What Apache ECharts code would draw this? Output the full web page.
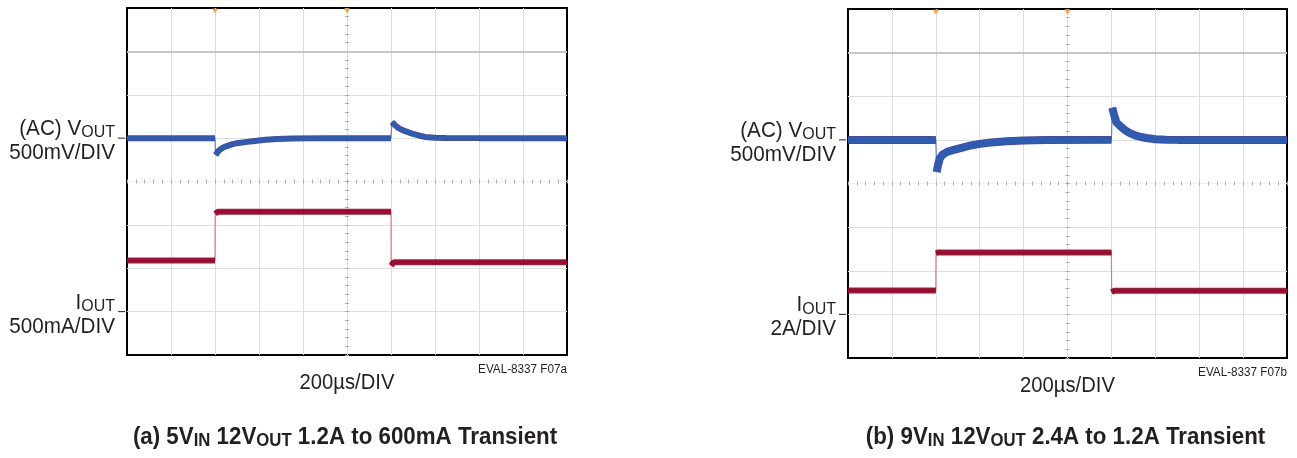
<!DOCTYPE html>
<html>
<head>
<meta charset="utf-8">
<script src="https://cdn.jsdelivr.net/npm/echarts@6/dist/echarts.min.js"></script>
<style>html,body{margin:0;padding:0;background:#fff}#c{width:1297px;height:458px}</style>
</head>
<body>
<div id="c"></div>
<script>
// ---------- data (read from the scope shots) ----------
// time axis: 10 divisions of 200 µs
const timeMinUs = 0, timeMaxUs = 2000, timeDivUs = 200;
const loadStepTimesUs = [400, 1200];
const triggerMarkTimesUs = [400, 1000];

// Panel (a): 5VIN 12VOUT 1.2A to 600mA, VOUT AC 500mV/div, IOUT 500mA/div
const voutATimeUs = [0, 400, 403, 408, 415, 425, 435, 445, 460, 480, 500, 536, 580, 630, 680, 750, 900, 1200,
  1204, 1212, 1222, 1235, 1250, 1265, 1277, 1300, 1330, 1355, 1400, 1450, 1600, 2000];
const voutAmV = [0, 0, -195, -175, -150, -128, -112, -100, -86, -70, -58, -46, -32, -20, -10, -4, 0, 0,
  185, 165, 140, 115, 95, 80, 69, 48, 28, 14, 5, 1, 0, 0];
const ioutATimeUs = [0, 400, 401, 412, 1200, 1201, 1212, 2000];
const ioutAAmps = [0.59, 0.59, 1.13, 1.15, 1.15, 0.53, 0.57, 0.57];

// Panel (b): 9VIN 12VOUT 2.4A to 1.2A, VOUT AC 500mV/div, IOUT 2A/div
const voutBTimeUs = [0, 400, 404, 410, 418, 430, 450, 470, 495, 530, 560, 600, 650, 723, 800, 900, 1200,
  1204, 1212, 1223, 1240, 1260, 1282, 1310, 1340, 1359, 1400, 1450, 1500, 2000];
const voutBmV = [0, 0, -367, -290, -215, -170, -140, -122, -105, -82, -64, -46, -30, -17, -8, -2, 0,
  367, 290, 200, 160, 115, 80, 50, 30, 22, 8, 2, 0, 0];
const ioutBTimeUs = [0, 400, 401, 412, 1200, 1201, 1212, 2000];
const ioutBAmps = [1.10, 1.10, 2.80, 2.84, 2.84, 1.02, 1.08, 1.08];

// vertical scales (8 divisions)
const voutScaleA = {min: -2500, max: 1500, interval: 500};
const ioutScaleA = {min: -0.5, max: 3.5, interval: 0.5};
const voutScaleB = {min: -2500, max: 1500, interval: 500};
const ioutScaleB = {min: -2, max: 14, interval: 2};

const voutLabelA = ['(AC) V', 'OUT', '500mV/DIV'];
const ioutLabelA = ['I', 'OUT', '500mA/DIV'];
const voutLabelB = ['(AC) V', 'OUT', '500mV/DIV'];
const ioutLabelB = ['I', 'OUT', '2A/DIV'];
const timeLabel = '200µs/DIV';
const figIds = ['EVAL-8337 F07a', 'EVAL-8337 F07b'];
const titleA = ['(a) 5V', 'IN', ' 12V', 'OUT', ' 1.2A to 600mA Transient'];
const titleB = ['(b) 9V', 'IN', ' 12V', 'OUT', ' 2.4A to 1.2A Transient'];

// ---------- chart ----------
const F = "'Liberation Sans',Arial,sans-serif";
const TXT = '#231f20';
const BLUE = '#2c5cb6', BLUE_EDGE = '#2b2a78', BLUE_THIN = '#5b82d4';
const RED = '#a8062e', RED_EDGE = '#6e0a20', RED_THIN = '#e5728e';
const SX = 0.92;   // condensed look
const GRID_C = '#dedede';

const grids = [
  {left: 127, top: 8, width: 440, height: 347},
  {left: 848, top: 9, width: 439, height: 349}
];
const panels = [
  {vt: voutATimeUs, vv: voutAmV, it: ioutATimeUs, iv: ioutAAmps, vs: voutScaleA, is: ioutScaleA, bw: 5, rw: 5,
   vl: voutLabelA, il: ioutLabelA, fig: figIds[0], title: titleA},
  {vt: voutBTimeUs, vv: voutBmV, it: ioutBTimeUs, iv: ioutBAmps, vs: voutScaleB, is: ioutScaleB, bw: 7, rw: 5,
   vl: voutLabelB, il: ioutLabelB, fig: figIds[1], title: titleB}
];

function pairs(t, v) { return t.map((x, i) => [x, v[i]]); }
// thick band broken at the fast load-step edges (edges drawn thin)
function broken(t, v) {
  const out = [];
  for (let i = 0; i < t.length; i++) {
    if (i > 0) {
      const s = loadStepTimesUs.find(s => t[i - 1] <= s && s < t[i]);
      if (s !== undefined && t[i] - t[i - 1] < 10) out.push([s + 0.5, '-']);
    }
    out.push([t[i], v[i]]);
  }
  return out;
}

const xAxis = [], yAxis = [], series = [], graphic = [];
panels.forEach((p, k) => {
  const g = grids[k];
  const xi = xAxis.length;
  const nX = (timeMaxUs - timeMinUs) / timeDivUs;
  const xColors = [];
  for (let j = 0; j <= nX; j++) xColors.push(j === 0 || j === nX ? 'rgba(0,0,0,0)' : GRID_C);
  xAxis.push({
    type: 'value', gridIndex: k, min: timeMinUs, max: timeMaxUs, interval: timeDivUs,
    axisLine: {show: false, onZero: false}, axisTick: {show: false}, axisLabel: {show: false},
    splitLine: {show: true, lineStyle: {color: xColors, width: 1}}
  });
  [true, false].forEach(inside => xAxis.push({
    type: 'value', gridIndex: k, min: timeMinUs, max: timeMaxUs, interval: timeDivUs / 5,
    position: 'bottom', offset: -g.height / 2,
    axisLine: {show: false, onZero: false}, axisLabel: {show: false}, splitLine: {show: false},
    axisTick: {show: true, inside: inside, length: 2, lineStyle: {color: '#a8a8a8'}}
  }));
  const yi = yAxis.length;
  const nDiv = (p.vs.max - p.vs.min) / p.vs.interval;
  const splitColors = [];
  for (let j = 0; j <= nDiv; j++) {
    splitColors.push(j === 0 || j === nDiv ? 'rgba(0,0,0,0)' : (j === nDiv / 2 ? '#efefef' : GRID_C));
  }
  yAxis.push({
    type: 'value', gridIndex: k, min: p.vs.min, max: p.vs.max, interval: p.vs.interval,
    axisLine: {show: false, onZero: false}, axisTick: {show: false}, axisLabel: {show: false},
    splitLine: {show: true, lineStyle: {color: splitColors, width: 1}}
  });
  yAxis.push({
    type: 'value', gridIndex: k, min: p.is.min, max: p.is.max, interval: p.is.interval, show: false,
    position: 'left', axisLine: {onZero: false}, splitLine: {show: false}
  });
  [true, false].forEach(inside => yAxis.push({
    type: 'value', gridIndex: k, min: 0, max: nDiv * 5, interval: 1,
    position: 'left', offset: -g.width / 2,
    axisLine: {show: false, onZero: false}, axisLabel: {show: false}, splitLine: {show: false},
    axisTick: {show: true, inside: inside, length: 2, lineStyle: {color: '#a8a8a8'}}
  }));

  const base = {type: 'line', xAxisIndex: xi, showSymbol: false, symbol: 'none', silent: true,
    animation: false, connectNulls: false};
  // VOUT
  series.push(Object.assign({}, base, {yAxisIndex: yi, data: pairs(p.vt, p.vv), z: 2,
    lineStyle: {color: BLUE_THIN, width: 1.2},
    markLine: {silent: true, symbol: ['none', 'none'], label: {show: false}, animation: false,
      lineStyle: {color: '#c6c6c6', width: 2, type: 'solid'}, data: [{yAxis: p.vs.max - p.vs.interval}]}}));
  series.push(Object.assign({}, base, {yAxisIndex: yi, data: broken(p.vt, p.vv), z: 3,
    lineStyle: {color: BLUE_EDGE, width: p.bw + 1, opacity: 0.85}}));
  series.push(Object.assign({}, base, {yAxisIndex: yi, data: broken(p.vt, p.vv), z: 4,
    lineStyle: {color: BLUE, width: p.bw - 0.5}}));
  // IOUT
  series.push(Object.assign({}, base, {yAxisIndex: yi + 1, data: pairs(p.it, p.iv), z: 2,
    lineStyle: {color: RED_THIN, width: 1.2}}));
  series.push(Object.assign({}, base, {yAxisIndex: yi + 1, data: broken(p.it, p.iv), z: 3,
    lineStyle: {color: RED_EDGE, width: p.rw + 1, opacity: 0.85}}));
  series.push(Object.assign({}, base, {yAxisIndex: yi + 1, data: broken(p.it, p.iv), z: 4,
    lineStyle: {color: RED, width: p.rw - 1}}));
  // trigger markers on top edge
  series.push({type: 'scatter', xAxisIndex: xi, yAxisIndex: yi, silent: true, animation: false, clip: false,
    symbol: 'triangle', symbolRotate: 180, symbolSize: [6, 5], symbolOffset: [0, 3], z: 6,
    itemStyle: {color: '#f39019'}, data: triggerMarkTimesUs.map(t => [t, p.vs.max])});

  // channel labels + marker ticks
  const rich = {
    m: {fontFamily: F, fontSize: 22, lineHeight: 24, fill: TXT, color: TXT},
    s: {fontFamily: F, fontSize: 17, lineHeight: 14, verticalAlign: 'bottom', fill: TXT, color: TXT}
  };
  const vTickY = g.top + g.height * (p.vs.max - 0) / (p.vs.max - p.vs.min);
  const iTickY = g.top + g.height * (p.is.max - 0) / (p.is.max - p.is.min);
  [[p.vl, vTickY], [p.il, iTickY]].forEach(([lab, ty]) => {
    graphic.push({type: 'text', x: g.left - 12, y: ty - 21, scaleX: 0.94, silent: true,
      style: {text: '{m|' + lab[0] + '}{s|' + lab[1] + '}\n{m|' + lab[2] + '}', align: 'right',
        verticalAlign: 'top', rich: rich}});
    graphic.push({type: 'line', silent: true, shape: {x1: g.left - 9, y1: ty, x2: g.left - 2, y2: ty},
      style: {stroke: TXT, lineWidth: 1}});
  });
  // time/div label
  graphic.push({type: 'text', x: g.left + g.width / 2, y: g.top + g.height + 28, scaleX: SX, silent: true,
    style: {text: timeLabel, align: 'center', verticalAlign: 'middle', fontFamily: F, fontSize: 22, fill: TXT}});
  // figure id
  graphic.push({type: 'text', x: g.left + g.width, y: g.top + g.height + 14, scaleX: 0.9, silent: true,
    style: {text: p.fig, align: 'right', verticalAlign: 'middle', fontFamily: F, fontSize: 13, fill: TXT}});
  // caption
  const tr = p.title;
  graphic.push({type: 'text', x: g.left + g.width / 2 - 2, y: 437, scaleX: 0.93, silent: true,
    style: {text: '{b|' + tr[0] + '}{s|' + tr[1] + '}{b|' + tr[2] + '}{s|' + tr[3] + '}{b|' + tr[4] + '}',
      align: 'center', verticalAlign: 'middle',
      rich: {
        b: {fontFamily: F, fontWeight: 'bold', fontSize: 24, lineHeight: 27, fill: TXT, color: TXT},
        s: {fontFamily: F, fontWeight: 'bold', fontSize: 18, lineHeight: 15, verticalAlign: 'bottom', fill: TXT, color: TXT}
      }}});
});

const chart = echarts.init(document.getElementById('c'));
chart.setOption({
  animation: false,
  backgroundColor: '#fff',
  grid: grids.map(g => Object.assign({show: true, borderColor: '#000', borderWidth: 2,
    backgroundColor: 'transparent', containLabel: false}, g)),
  xAxis: xAxis, yAxis: yAxis, series: series, graphic: graphic
});
</script>
</body>
</html>
